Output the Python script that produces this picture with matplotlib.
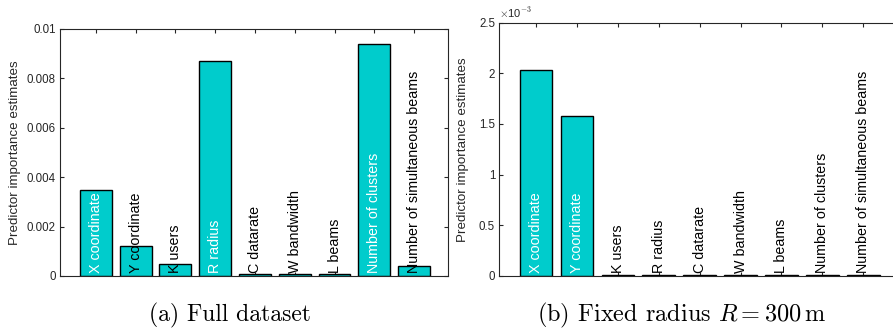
import matplotlib
matplotlib.use("Agg")
import matplotlib.pyplot as plt

# Predictor names and importance estimates
predictors = ["X coordinate", "Y coordinate", "K users", "R radius", "C datarate",
              "W bandwidth", "L beams", "Number of clusters", "Number of simultaneous beams"]
importance_full = [0.0035, 0.0012, 0.0005, 0.0087, 0.0001, 0.0001, 0.0001, 0.0094, 0.0004]
importance_fixed = [2.03e-3, 1.58e-3, 1e-5, 1e-5, 1e-5, 1e-5, 1e-5, 1e-5, 1e-5]
yticks_full = [0, 0.002, 0.004, 0.006, 0.008, 0.01]
ytick_labels_full = ["0", "0.002", "0.004", "0.006", "0.008", "0.01"]
yticks_fixed = [0, 0.5e-3, 1e-3, 1.5e-3, 2e-3, 2.5e-3]
ytick_labels_fixed = ["0", "0.5", "1", "1.5", "2", "2.5"]
captions = ["(a) Full dataset", r"(b) Fixed radius $R=300\,\mathrm{m}$"]

plt.rcParams["font.family"] = ["Liberation Sans", "DejaVu Sans"]
plt.rcParams["mathtext.fontset"] = "cm"

AX_COL = "#262626"
BAR_COL = "#00CCCC"

fig = plt.figure(figsize=(8.93, 3.31), dpi=100)
ax1 = fig.add_axes([0.0672, 0.1662, 0.4348, 0.7462])
ax2 = fig.add_axes([0.5591, 0.1662, 0.4469, 0.7653])


def draw_panel(ax, values, ymax):
    x = list(range(1, len(values) + 1))
    ax.bar(x, values, width=0.8, color=BAR_COL, edgecolor="black", linewidth=1.0, zorder=2)
    ax.set_xlim(0.1, 9.86)
    ax.set_ylim(0, ymax)
    ax.set_xticks(x)
    ax.set_xticklabels([])
    for xi, v, name in zip(x, values, predictors):
        inside = v > 0.3 * ymax
        ax.annotate(name, xy=(xi, 0), xytext=(0, 2), textcoords="offset points",
                    rotation=90, ha="center", va="bottom", fontsize=10.3,
                    color="white" if inside else "black", zorder=3)
    ax.tick_params(direction="in", length=3, width=0.8, colors=AX_COL,
                   top=True, right=True, labelsize=8.3, pad=3)
    for sp in ax.spines.values():
        sp.set_color(AX_COL)
        sp.set_linewidth(0.8)
    ax.set_ylabel("Predictor importance estimates", fontsize=9.6, color=AX_COL)


draw_panel(ax1, importance_full, 0.01)
ax1.set_yticks(yticks_full)
ax1.set_yticklabels(ytick_labels_full)
ax1.yaxis.set_label_coords(-0.1, 0.5)

draw_panel(ax2, importance_fixed, 2.5e-3)
ax2.set_yticks(yticks_fixed)
ax2.set_yticklabels(ytick_labels_fixed)
ax2.yaxis.set_label_coords(-0.075, 0.5)
ax2.text(0.0, 1.01, r"$\times$10$^{\mathsf{-3}}$", transform=ax2.transAxes,
         ha="left", va="bottom", fontsize=8, color=AX_COL)

fig.text(230 / 893, 0.03, captions[0], ha="center", va="baseline",
         fontsize=17, family="cmr10")
fig.text(681 / 893, 0.03, captions[1], ha="center", va="baseline",
         fontsize=17.5, family="cmr10")

fig.savefig("out.png", dpi=100)
